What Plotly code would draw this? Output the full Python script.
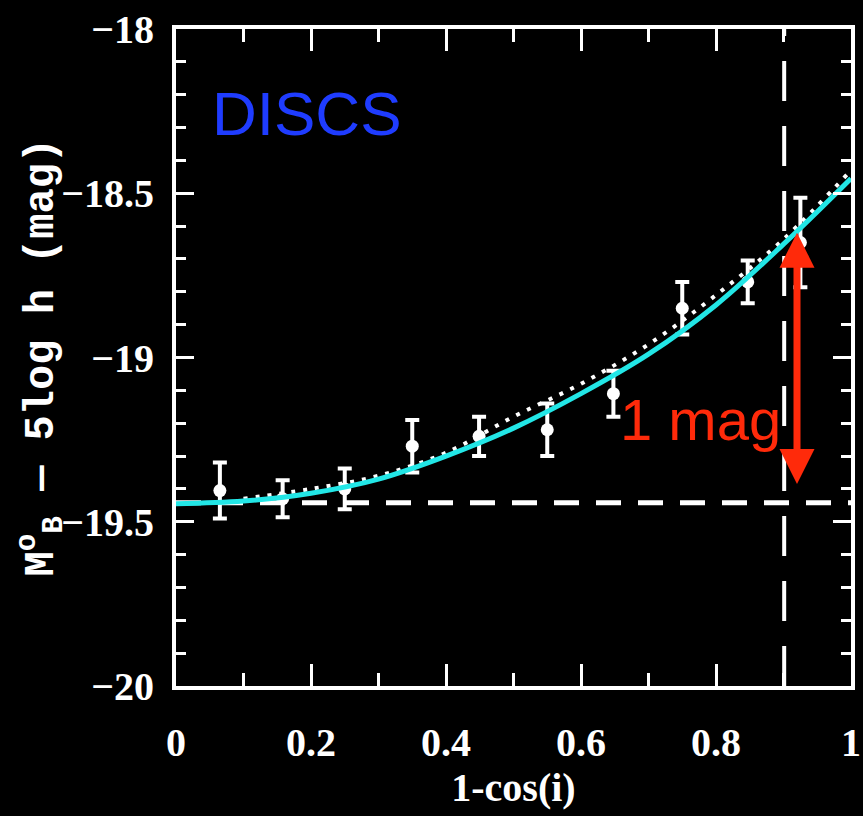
import plotly.graph_objects as go

# ---- data ----
x_pts = [0.065, 0.158, 0.25, 0.35, 0.449, 0.55, 0.648, 0.75, 0.847, 0.925]
y_pts = [-19.405, -19.43, -19.40, -19.27, -19.24, -19.22, -19.11, -18.85, -18.77, -18.65]
y_err = [0.085, 0.056, 0.062, 0.08, 0.06, 0.08, 0.07, 0.08, 0.065, 0.136]

fit_x = [0, 0.1, 0.2, 0.3, 0.4, 0.5, 0.6, 0.7, 0.8, 0.9, 1.0]
fit_y = [-19.445, -19.437, -19.413, -19.37, -19.30, -19.215, -19.11, -18.99, -18.84, -18.655, -18.455]

dot_x = [0.1, 0.2, 0.3, 0.4, 0.5, 0.6, 0.7, 0.8, 0.9, 1.0]
dot_y = [-19.43, -19.40, -19.36, -19.29, -19.18, -19.08, -18.96, -18.81, -18.64, -18.43]

hline_x = [0, 1]
hline_y = [-19.442, -19.442]
vline_x = [0.901, 0.901]
vline_y = [-20, -18]

arrow_x = 0.92
arrow_top = -18.62
arrow_bottom = -19.39

x_ticks = [0, 0.2, 0.4, 0.6, 0.8, 1]
x_ticklabels = ["0", "0.2", "0.4", "0.6", "0.8", "1"]
y_ticks = [-20, -19.5, -19, -18.5, -18]
y_ticklabels = ["−20", "−19.5", "−19", "−18.5", "−18"]

WHITE = "#ffffff"
CYAN = "#22e6e6"
RED = "#ff2a0a"
BLUE = "#1f3cff"

fig = go.Figure()

fig.add_trace(go.Scatter(x=hline_x, y=hline_y, mode="lines",
                         line=dict(color=WHITE, width=5, dash="25px,17px"),
                         showlegend=False, hoverinfo="skip"))
fig.add_trace(go.Scatter(x=vline_x, y=vline_y, mode="lines",
                         line=dict(color=WHITE, width=4, dash="40px,25px"),
                         showlegend=False, hoverinfo="skip"))
fig.add_trace(go.Scatter(x=x_pts, y=y_pts, mode="markers",
                         marker=dict(color=WHITE, size=13, symbol="circle"),
                         error_y=dict(type="data", array=y_err, color=WHITE,
                                      thickness=4, width=7),
                         showlegend=False))
fig.add_trace(go.Scatter(x=dot_x, y=dot_y, mode="lines", line_shape="spline",
                         line=dict(color=WHITE, width=4, dash="4px,8px"),
                         showlegend=False, hoverinfo="skip"))
fig.add_trace(go.Scatter(x=fit_x, y=fit_y, mode="lines", line_shape="spline",
                         line=dict(color=CYAN, width=5),
                         showlegend=False))

# red double arrow
fig.add_annotation(x=arrow_x, y=arrow_top, ax=arrow_x, ay=arrow_bottom,
                   xref="x", yref="y", axref="x", ayref="y",
                   text="", showarrow=True, arrowhead=2, startarrowhead=2,
                   arrowside="end+start", arrowsize=1, startarrowsize=1,
                   arrowwidth=7, arrowcolor=RED, standoff=0, startstandoff=0)

fig.add_annotation(x=0.777, y=-19.19, xref="x", yref="y", text="1 mag",
                   showarrow=False,
                   font=dict(family="Liberation Sans, Arial", size=58, color=RED))
fig.add_annotation(x=0.193, y=-18.256, xref="x", yref="y", text="DISCS",
                   showarrow=False,
                   font=dict(family="Liberation Sans, Arial", size=62, color=BLUE))

# y-axis title as rotated text
fig.add_annotation(x=-0.2, y=0.5, xref="paper", yref="paper",
                   text="M<sup>o</sup><sub>B</sub> — 5log h (mag)",
                   textangle=-90, showarrow=False, xanchor="center", yanchor="middle",
                   font=dict(family="Liberation Mono", size=42, color=WHITE, weight="bold"))

axis_font = dict(family="Liberation Serif", size=40, color=WHITE, weight="bold")

fig.update_xaxes(range=[0, 1], tickvals=x_ticks, ticktext=x_ticklabels,
                 ticks="inside", ticklen=22, tickwidth=3, tickcolor=WHITE,
                 minor=dict(dtick=0.1, ticklen=13, tickwidth=3, tickcolor=WHITE, ticks="inside"),
                 showline=True, linecolor=WHITE, linewidth=4, mirror="allticks",
                 showgrid=False, zeroline=False,
                 tickfont=axis_font, ticklabelstandoff=18,
                 title=dict(text="1-cos(i)",
                            font=dict(family="Liberation Serif", size=40, color=WHITE,
                                      weight="bold"),
                            standoff=2))
fig.update_yaxes(range=[-20, -18], tickvals=y_ticks, ticktext=y_ticklabels,
                 ticks="inside", ticklen=18, tickwidth=3, tickcolor=WHITE,
                 minor=dict(dtick=0.1, ticklen=10, tickwidth=3, tickcolor=WHITE, ticks="inside"),
                 showline=True, linecolor=WHITE, linewidth=4, mirror="allticks",
                 showgrid=False, zeroline=False,
                 tickfont=axis_font, ticklabelstandoff=10)

fig.update_layout(width=863, height=816,
                  paper_bgcolor="black", plot_bgcolor="black",
                  margin=dict(l=176, r=12, t=29, b=130, autoexpand=False),
                  showlegend=False)

fig.write_html("out.html", config={"displayModeBar": False},
               post_script="document.body.style.margin='0';"
                           "document.body.style.background='black';")
